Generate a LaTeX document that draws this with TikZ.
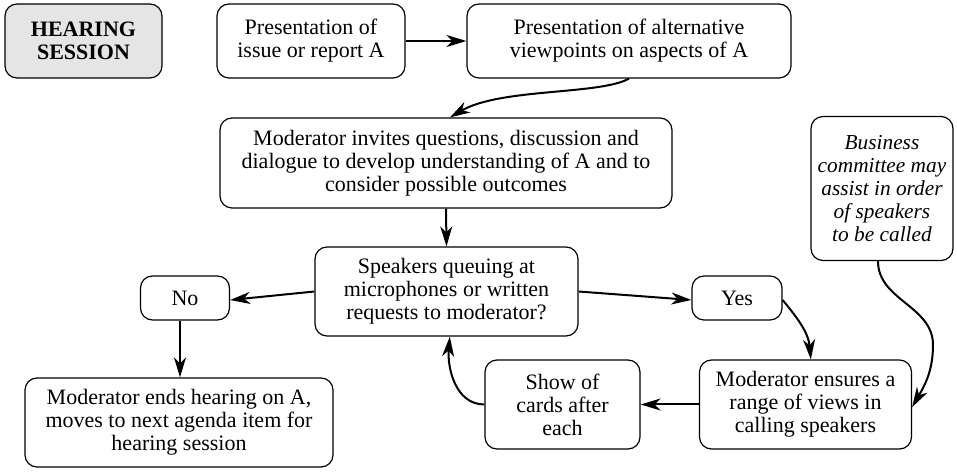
\documentclass[tikz,border=0pt]{standalone}
\usepackage{fontspec}
\setmainfont{Liberation Serif}
\usetikzlibrary{arrows.meta}
\begin{document}
\begin{tikzpicture}[x=0.75pt,y=-0.75pt,
  box/.style={draw, line width=0.9pt, rounded corners=9pt, align=center, inner sep=0pt,
    font=\fontsize{16.5}{17.25}\selectfont},
  conn/.style={line width=1.5pt, -{Stealth[length=15pt,width=9pt,inset=4.5pt]}}]
\useasboundingbox (0,0) rectangle (957,473);
\node[box, fill=black!10, font=\fontsize{16.5}{17.25}\selectfont\bfseries, minimum width={157*0.75pt}, minimum height={74*0.75pt}] (hs) at (83.5,41) {HEARING\\SESSION};
\node[box, minimum width={188*0.75pt}, minimum height={74*0.75pt}] (pa) at (311,41) {Presentation of\\issue or report A};
\node[box, minimum width={324*0.75pt}, minimum height={74*0.75pt}] (pv) at (629,41) {Presentation of alternative\\viewpoints on aspects of A};
\node[box, minimum width={452*0.75pt}, minimum height={90*0.75pt}] (mi) at (446,163) {Moderator invites questions, discussion and\\dialogue to develop understanding of A and to\\consider possible outcomes};
\node[box, font=\fontsize{16}{17.25}\selectfont\itshape, minimum width={142*0.75pt}, minimum height={144*0.75pt}] (bc) at (882,188.5) {Business\\committee may\\assist in order\\of speakers\\to be called};
\node[box, minimum width={263*0.75pt}, minimum height={89*0.75pt}] (sq) at (446.5,291.5) {Speakers queuing at\\microphones or written\\requests to moderator?};
\node[box, minimum width={89*0.75pt}, minimum height={44*0.75pt}] (no) at (185,298) {No};
\node[box, minimum width={90*0.75pt}, minimum height={44*0.75pt}] (yes) at (737,298) {Yes};
\node[box, minimum width={308*0.75pt}, minimum height={89*0.75pt}] (me) at (179,422.5) {Moderator ends hearing on A,\\moves to next agenda item for\\hearing session};
\node[box, minimum width={155*0.75pt}, minimum height={89*0.75pt}] (sc) at (562.5,404.5) {Show of\\cards after\\each};
\node[box, minimum width={212*0.75pt}, minimum height={89*0.75pt}] (mr) at (805.5,404.5) {Moderator ensures a\\range of views in\\calling speakers};
\coordinate (bcmid) at (933,345);

\draw[conn] (pa.east) -- (pv.west);
\draw[conn] (pv.south) .. controls (600,95) and (500,88) .. ([xshift=3pt]mi.north);
\draw[conn] (mi.south) -- (sq.north);
\draw[conn] (sq.west) -- ([yshift=-1.5pt]no.east);
\draw[conn] (sq.east) -- ([yshift=-1.5pt]yes.east -| yes.west);
\draw[conn] (no.south -| 180,0) -- (me.north -| 180,0);
\draw[conn] ([yshift=-1.5pt]yes.east) to[out=-50,in=95] ([xshift=4pt]mr.north);
\draw[conn] (mr.west) -- (sc.west -| sc.east);
\draw[conn] (sc.west) to[out=180,in=-95] ([xshift=2.5pt]sq.south);
\draw[line width=1.5pt] ([xshift=-3pt]bc.south) to[out=-90,in=90] (bcmid);
\draw[conn] (bcmid) to[out=-90,in=60] ([yshift=-2pt]mr.east);
\end{tikzpicture}
\end{document}
